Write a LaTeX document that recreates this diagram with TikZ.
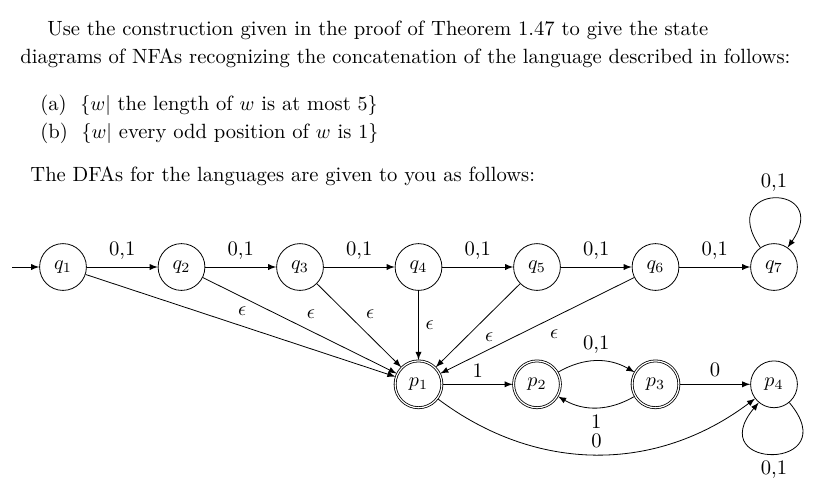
\documentclass[tikz,border=0pt]{standalone}
\usepackage{amsmath}
\usepackage{amsfonts}
\usepackage{tikz}
\usetikzlibrary{arrows, automata, positioning}

\begin{document}
\begin{tikzpicture}[x=0.5pt, y=0.5pt, >=latex, auto,
  font=\fontsize{10.3}{12.4}\selectfont,
  node distance = 58.65pt and 59.25pt, on grid,
  every state/.style={draw, minimum size=23.4pt, inner sep=0pt},
  every accepting state/.style={minimum size=21.8pt, double distance=1.4pt},
  bigloop/.style={loop, looseness=7.5}]
\useasboundingbox (0,0) rectangle (830,495);
% the exercise text
\node[anchor=base west, inner sep=0pt] (l1) at (47,460) {Use the construction given in the proof of Theorem 1.47 to give the state};
\node[anchor=base west, inner sep=0pt] (l2) at (20,432) {diagrams of NFAs recognizing the concatenation of the language described in follows:};
\node[anchor=base west, inner sep=0pt] (la) at (40,385) {(a)\ \ $\{w|$ the length of $w$ is at most $5\}$};
\node[anchor=base west, inner sep=0pt] (lb) at (40,357) {(b)\ \ $\{w|$ every odd position of $w$ is $1\}$};
\node[anchor=base west, inner sep=0pt] (l3) at (30,314) {The DFAs for the languages are given to you as follows:};
% the two DFAs, glued by epsilon moves
\node[state] (q1) at (63,228) {$q_1$};
\node[state] (q2) [right=of q1] {$q_2$};
\node[state] (q3) [right=of q2] {$q_3$};
\node[state] (q4) [right=of q3] {$q_4$};
\node[state] (q5) [right=of q4] {$q_5$};
\node[state] (q6) [right=of q5] {$q_6$};
\node[state] (q7) [right=of q6] {$q_7$};
\node[state, accepting] (p1) [below=of q4] {$p_1$};
\node[state, accepting] (p2) [right=of p1] {$p_2$};
\node[state, accepting] (p3) [right=of p2] {$p_3$};
\node[state] (p4) [right=of p3] {$p_4$};
\coordinate (start) at (12,228);
\draw[->] (start) -- (q1);
\draw[->] (q1) -- node {0,1} (q2);
\draw[->] (q2) -- node {0,1} (q3);
\draw[->] (q3) -- node {0,1} (q4);
\draw[->] (q4) -- node {0,1} (q5);
\draw[->] (q5) -- node {0,1} (q6);
\draw[->] (q6) -- node {0,1} (q7);
\draw[->] (q7) to[bigloop, out=125, in=55] node {0,1} (q7);
\draw[->] (q1) -- node[pos=0.47] {$\epsilon$} (p1);
\draw[->] (q2) -- node {$\epsilon$} (p1);
\draw[->] (q3) -- node {$\epsilon$} (p1);
\draw[->] (q4) -- node {$\epsilon$} (p1);
\draw[->] (q5) -- node {$\epsilon$} (p1);
\draw[->] (q6) -- node[pos=0.47] {$\epsilon$} (p1);
\draw[->] (p1) -- node {1} (p2);
\draw[->] (p2) to[bend left] node {0,1} (p3);
\draw[->] (p3) to[bend left] node {1} (p2);
\draw[->] (p3) -- node {0} (p4);
\draw[->] (p1) to[bend right=37] node {0} (p4);
\draw[->] (p4) to[bigloop, out=-50, in=-130] node {0,1} (p4);
\end{tikzpicture}
\end{document}
